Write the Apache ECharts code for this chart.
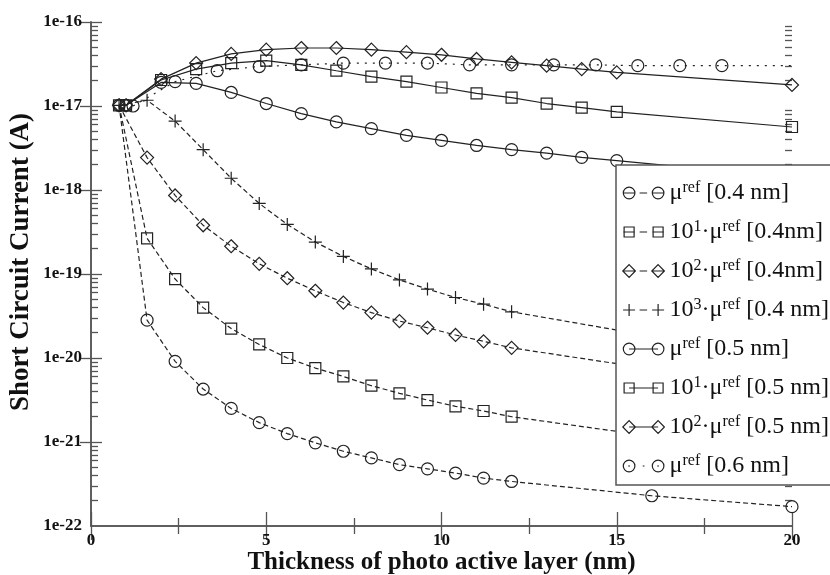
<!DOCTYPE html>
<html><head><meta charset="utf-8">
<script src="https://cdn.jsdelivr.net/npm/echarts@6/dist/echarts.min.js"></script>
<style>html,body{margin:0;padding:0;background:#fff}#c{width:830px;height:575px}</style>
</head><body><div id="c"></div>
<script>
// ---- data ----
const xDashed = [0.8,1.6,2.4,3.2,4.0,4.8,5.6,6.4,7.2,8.0,8.8,9.6,10.4,11.2,12.0,16,20];
const xSolid  = [1,2,3,4,5,6,7,8,9,10,11,12,13,14,15,20];
const xDotted = [1.2,2.4,3.6,4.8,6.0,7.2,8.4,9.6,10.8,12.0,13.2,14.4,15.6,16.8,18.0,20];

const mu04      = [1.02e-17,2.82e-20,9.12e-21,4.27e-21,2.51e-21,1.70e-21,1.26e-21,9.77e-22,7.76e-22,6.46e-22,5.37e-22,4.79e-22,4.27e-22,3.72e-22,3.39e-22,2.29e-22,1.70e-22];
const mu04x10   = [1.02e-17,2.66e-19,8.71e-20,3.98e-20,2.24e-20,1.45e-20,1.00e-20,7.59e-21,6.03e-21,4.68e-21,3.80e-21,3.16e-21,2.66e-21,2.34e-21,2.00e-21,1.17e-21,7.94e-22];
const mu04x100  = [1.02e-17,2.43e-18,8.61e-19,3.80e-19,2.14e-19,1.32e-19,8.91e-20,6.31e-20,4.57e-20,3.47e-20,2.75e-20,2.29e-20,1.88e-20,1.58e-20,1.32e-20,7.41e-21,4.47e-21];
const mu04x1000 = [1.02e-17,1.17e-17,6.61e-18,3.02e-18,1.38e-18,6.92e-19,3.89e-19,2.40e-19,1.62e-19,1.15e-19,8.51e-20,6.61e-20,5.25e-20,4.37e-20,3.55e-20,1.82e-20,1.00e-20];
const mu05      = [1.02e-17,1.91e-17,1.86e-17,1.45e-17,1.07e-17,8.13e-18,6.46e-18,5.37e-18,4.47e-18,3.89e-18,3.39e-18,3.02e-18,2.75e-18,2.45e-18,2.24e-18,1.41e-18];
const mu05x10   = [1.02e-17,2.04e-17,2.75e-17,3.24e-17,3.47e-17,3.09e-17,2.63e-17,2.24e-17,1.95e-17,1.66e-17,1.41e-17,1.26e-17,1.07e-17,9.55e-18,8.51e-18,5.62e-18];
const mu05x100  = [1.02e-17,2.09e-17,3.24e-17,4.17e-17,4.68e-17,4.90e-17,4.90e-17,4.68e-17,4.37e-17,4.07e-17,3.63e-17,3.31e-17,3.02e-17,2.75e-17,2.51e-17,1.78e-17];
const mu06      = [1.00e-17,1.95e-17,2.63e-17,2.95e-17,3.09e-17,3.24e-17,3.24e-17,3.24e-17,3.09e-17,3.09e-17,3.09e-17,3.09e-17,3.02e-17,3.02e-17,3.02e-17,3.02e-17];

const seriesNames = ['μref [0.4 nm]','10¹·μref [0.4nm]','10²·μref [0.4nm]','10³·μref [0.4 nm]','μref [0.5 nm]','10¹·μref [0.5 nm]','10²·μref [0.5 nm]','μref [0.6 nm]'];
const legendPowers = ['','1','2','3','','1','2',''];
const legendSuffix = [' [0.4 nm]',' [0.4nm]',' [0.4nm]',' [0.4 nm]',' [0.5 nm]',' [0.5 nm]',' [0.5 nm]',' [0.6 nm]'];
const yDecades = [-22,-21,-20,-19,-18,-17,-16];   // tick labels 1e-22 … 1e-16

const seriesX = [xDashed,xDashed,xDashed,xDashed,xSolid,xSolid,xSolid,xDotted];
const seriesY = [mu04,mu04x10,mu04x100,mu04x1000,mu05,mu05x10,mu05x100,mu06];

// ---- styles ----
const FONT = "'Liberation Serif','Times New Roman',serif";
const INK = '#222';
const AX = '#555';
const PLUS = 'path://M0 6L12 6M6 0L6 12';
const symbols = ['circle','rect','diamond',PLUS,'circle','rect','diamond','circle'];
const symSizes = [12,11,13,13,12,11,13,12];
const DASH = [5,3], DOT = [2,6];
const lineTypes = [DASH,DASH,DASH,DASH,'solid','solid','solid',DOT];

const cy = 6.5, r = 5.8;
const icCircle = cx => `M${cx-r} ${cy}A${r} ${r} 0 1 0 ${cx+r} ${cy}A${r} ${r} 0 1 0 ${cx-r} ${cy}Z`;
const icSquare = cx => `M${cx-5} ${cy-5}L${cx+5} ${cy-5}L${cx+5} ${cy+5}L${cx-5} ${cy+5}Z`;
const icDiamond = cx => `M${cx} ${cy-6.3}L${cx+6.3} ${cy}L${cx} ${cy+6.3}L${cx-6.3} ${cy}Z`;
const icPlus = cx => `M${cx-6} ${cy}L${cx+6} ${cy}M${cx} ${cy-6}L${cx} ${cy+6}`;
const lnSolid = `M6.5 ${cy}L35.5 ${cy}`;
const lnDash = `M0.7 ${cy}L12.3 ${cy}M17 ${cy}L24.5 ${cy}M29.7 ${cy}L41.3 ${cy}`;
const lnDot = `M5.6 ${cy}L7.4 ${cy}M20.1 ${cy}L21.9 ${cy}M34.6 ${cy}L36.4 ${cy}`;
const shapeFns = [icCircle,icSquare,icDiamond,icPlus,icCircle,icSquare,icDiamond,icCircle];
const lineIcons = [lnDash,lnDash,lnDash,lnDash,lnSolid,lnSolid,lnSolid,lnDot];
const legendIcons = shapeFns.map((f,i)=>'path://M0 0M42 13' + f(6.5) + f(35.5) + lineIcons[i]);

const minorLog = [];
for (let n = -22; n < -16; n++) for (let k = 2; k <= 9; k++) minorLog.push(n + Math.log10(k));

const series = seriesNames.map((name,i)=>({
  name, type:'line', xAxisIndex:0, yAxisIndex:0,
  data: seriesX[i].map((x,j)=>{
    const last = (i===7 && j===seriesX[i].length-1);
    return last ? {value:[x,seriesY[i][j]], symbol:'none'} : [x,seriesY[i][j]];
  }),
  symbol: symbols[i], symbolSize: symSizes[i],
  itemStyle:{color:'transparent', borderColor:INK, borderWidth:1.2},
  lineStyle:{color:INK, width:1.2, type:lineTypes[i]},
  emphasis:{disabled:true}, z:2
}));

const tickStyle = {lineStyle:{color:AX,width:1.3}};
const chart = echarts.init(document.getElementById('c'), null, {renderer:'canvas'});
chart.setOption({
  animation:false,
  backgroundColor:'#fff',
  grid:{left:91,right:38,top:22,bottom:49,outerBoundsMode:'none',containLabel:false},
  xAxis:[
    {type:'value',min:0,max:20,interval:5,position:'bottom',
     axisLine:{lineStyle:{color:AX,width:1.5}},
     axisTick:{inside:true,length:14,...tickStyle},
     minorTick:{show:true,splitNumber:2,length:8,...tickStyle},
     splitLine:{show:false},minorSplitLine:{show:false},
     axisLabel:{color:'#111',fontFamily:FONT,fontWeight:'bold',fontSize:17,margin:6},
     name:'Thickness of photo active layer (nm)',nameLocation:'middle',nameGap:24,nameMoveOverlap:false,
     nameTextStyle:{color:'#111',fontFamily:FONT,fontWeight:'bold',fontSize:25}},
    {type:'value',min:0,max:20,interval:5,position:'top',
     axisLine:{lineStyle:{color:AX,width:1.5}},
     axisTick:{inside:true,length:14,...tickStyle},
     minorTick:{show:true,splitNumber:2,length:8,...tickStyle},
     splitLine:{show:false},axisLabel:{show:false}}
  ],
  yAxis:[
    {type:'log',logBase:10,min:1e-22,max:1e-16,splitNumber:6,position:'left',
     axisLine:{lineStyle:{color:AX,width:1.5}},
     axisTick:{inside:true,length:11,...tickStyle},
     splitLine:{show:false},axisLabel:{show:false},
     name:'Short Circuit Current (A)',nameLocation:'middle',nameGap:56,nameMoveOverlap:false,
     nameTextStyle:{color:'#111',fontFamily:FONT,fontWeight:'bold',fontSize:27,padding:[0,0,0,24]}},
    {type:'log',logBase:10,min:1e-22,max:1e-16,splitNumber:6,position:'right',
     axisLine:{lineStyle:{color:AX,width:1.5}},
     axisTick:{inside:true,length:11,...tickStyle},
     splitLine:{show:false},axisLabel:{show:false}},
    {type:'value',min:-22,max:-16,position:'left',
     axisLine:{show:false},splitLine:{show:false},
     axisTick:{inside:true,length:7,customValues:minorLog,...tickStyle},
     axisLabel:{customValues:yDecades,color:'#111',fontFamily:FONT,fontWeight:'bold',fontSize:17,margin:9,
       showMinLabel:true,showMaxLabel:true,formatter:v=>'1e'+v}},
    {type:'value',min:-22,max:-16,position:'right',
     axisLine:{show:false},splitLine:{show:false},axisLabel:{show:false},
     axisTick:{inside:true,length:7,customValues:minorLog,...tickStyle}}
  ],
  legend:{
    orient:'vertical',left:616,top:165,align:'left',
    padding:[15,20,7,6],itemGap:14,itemWidth:42,itemHeight:13,
    backgroundColor:'#fff',borderColor:AX,borderWidth:1.5,borderRadius:0,
    selectedMode:false,symbolKeepAspect:true,z:10,
    itemStyle:{color:'transparent',borderColor:INK,borderWidth:1.2},
    data:seriesNames.map((n,i)=>({name:n,icon:legendIcons[i]})),
    formatter:name=>{
      const i = seriesNames.indexOf(name);
      const p = legendPowers[i];
      return (p ? `{n|10}{s|${p}}{n|·μ}` : '{n|μ}') + `{s|ref}{n|${legendSuffix[i]}}`;
    },
    textStyle:{fontFamily:FONT,fontSize:24,color:'#111',
      rich:{
        n:{fontFamily:FONT,fontSize:24,lineHeight:26,color:'#111'},
        s:{fontFamily:FONT,fontSize:16,lineHeight:15,verticalAlign:'top',color:'#111'}
      }}
  },
  series
});
</script></body></html>
